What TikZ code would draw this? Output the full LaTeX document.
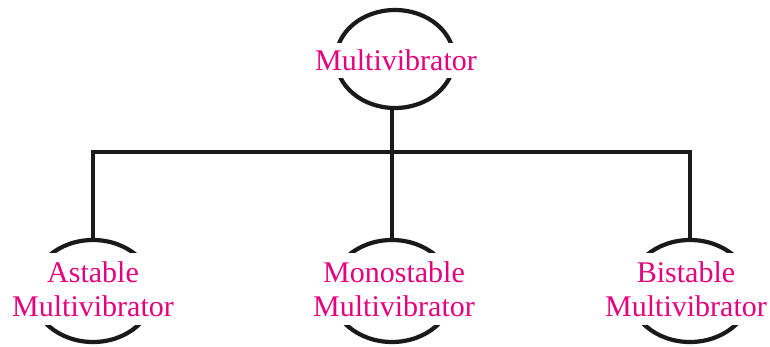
\documentclass[tikz,border=0pt]{standalone}
\usepackage{fontspec}
\setmainfont{Liberation Serif}
\usetikzlibrary{shapes.geometric}
\definecolor{mag}{HTML}{E5007D}
\definecolor{ink}{HTML}{1A1A1A}
\begin{document}
\begin{tikzpicture}[x=1pt,y=-1pt,
  ring/.style={ellipse, draw=ink, line width=4.2pt, inner sep=0pt},
  toplabel/.style={fill=white, text=mag, inner sep=0pt, minimum width=180pt, minimum height=35pt, font=\fontsize{30}{34}\selectfont},
  label2/.style={fill=white, text=mag, inner sep=0pt, align=center, minimum width=170pt, minimum height=72pt, font=\fontsize{30}{34}\selectfont},
  wire/.style={draw=ink, line width=3.4pt}]
\useasboundingbox[fill=white] (0,0) rectangle (770,347);
\node[ring, minimum width=118pt, minimum height=98pt] (top) at (395,59) {};
\node[ring, minimum width=122pt, minimum height=102pt] (ast) at (93,291) {};
\node[ring, minimum width=122pt, minimum height=102pt] (mono) at (392,291) {};
\node[ring, minimum width=122pt, minimum height=102pt] (bist) at (690,291) {};
\coordinate (bus) at (392,152);
\draw[wire] (bus |- top.south) -- (bus);
\draw[wire] (ast.north) |- (bus) -| (bist.north);
\draw[wire] (mono.north) -- (mono.north |- bus);
\node[toplabel] (tl) at (396,60.5) {Multivibrator};
\node[label2] (al) at (93,289) {Astable\\Multivibrator};
\node[label2] (ml) at (394,289) {Monostable\\Multivibrator};
\node[label2] (bl) at (686,289) {Bistable\\Multivibrator};
\end{tikzpicture}
\end{document}
